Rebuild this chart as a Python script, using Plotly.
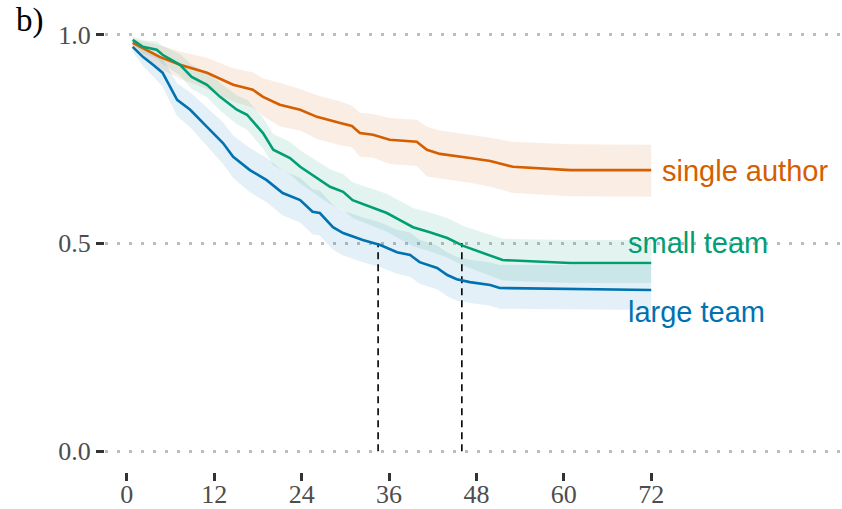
import plotly.graph_objects as go

# Survival estimates (months since start) with confidence bands
single_t = [0.8, 4.5, 7.3, 11.0, 14.6, 17.3, 18.7, 21.0, 23.8, 26.1, 29.3, 30.9, 32.0,
            33.8, 36.1, 39.8, 41.2, 43.0, 47.1, 49.9, 53.0, 60.9, 72.0]
single_s = [0.981, 0.947, 0.928, 0.909, 0.880, 0.868, 0.851, 0.832, 0.820, 0.803, 0.788,
            0.781, 0.764, 0.760, 0.748, 0.743, 0.724, 0.714, 0.704, 0.697, 0.683, 0.675, 0.675]
single_lo = [0.970, 0.920, 0.895, 0.870, 0.840, 0.825, 0.805, 0.780, 0.770, 0.750, 0.735,
             0.730, 0.707, 0.705, 0.690, 0.685, 0.660, 0.655, 0.645, 0.635, 0.620, 0.612, 0.611]
single_hi = [0.990, 0.975, 0.960, 0.945, 0.920, 0.910, 0.895, 0.885, 0.870, 0.855, 0.840,
             0.830, 0.813, 0.810, 0.800, 0.796, 0.779, 0.770, 0.760, 0.753, 0.743, 0.737, 0.736]

small_t = [0.8, 2.2, 4.1, 4.9, 7.3, 8.9, 11.0, 12.8, 15.1, 16.5, 18.7, 20.1, 22.4, 23.8,
           27.9, 29.7, 31.0, 33.4, 35.7, 37.5, 39.3, 41.6, 44.0, 46.2, 48.5, 51.6, 60.9, 72.0]
small_s = [0.988, 0.971, 0.964, 0.952, 0.928, 0.899, 0.880, 0.851, 0.820, 0.808, 0.764,
           0.724, 0.704, 0.683, 0.635, 0.623, 0.603, 0.587, 0.572, 0.555, 0.538, 0.526,
           0.512, 0.493, 0.478, 0.459, 0.452, 0.452]
small_lo = [0.980, 0.955, 0.944, 0.930, 0.902, 0.870, 0.850, 0.818, 0.785, 0.772, 0.727,
            0.686, 0.665, 0.643, 0.593, 0.580, 0.560, 0.543, 0.527, 0.510, 0.492, 0.480,
            0.465, 0.446, 0.430, 0.410, 0.404, 0.404]
small_hi = [0.996, 0.987, 0.984, 0.974, 0.954, 0.928, 0.910, 0.884, 0.855, 0.844, 0.801,
            0.762, 0.743, 0.723, 0.677, 0.666, 0.646, 0.631, 0.618, 0.601, 0.584, 0.573,
            0.560, 0.541, 0.528, 0.510, 0.507, 0.507]

large_t = [0.8, 2.2, 3.6, 4.9, 6.9, 8.7, 11.0, 13.2, 14.6, 16.9, 19.2, 21.4, 23.8, 25.5,
           26.5, 28.3, 29.7, 32.4, 34.8, 37.1, 38.9, 40.2, 42.6, 44.0, 45.3, 47.1, 49.9,
           51.2, 72.0]
large_s = [0.971, 0.947, 0.928, 0.909, 0.844, 0.820, 0.779, 0.740, 0.707, 0.675, 0.651,
           0.620, 0.603, 0.575, 0.572, 0.538, 0.524, 0.507, 0.495, 0.478, 0.471, 0.454,
           0.440, 0.423, 0.413, 0.406, 0.399, 0.392, 0.387]
large_lo = [0.960, 0.925, 0.900, 0.875, 0.805, 0.778, 0.732, 0.690, 0.656, 0.622, 0.598,
            0.566, 0.549, 0.521, 0.518, 0.484, 0.470, 0.454, 0.442, 0.426, 0.419, 0.402,
            0.389, 0.372, 0.362, 0.356, 0.349, 0.342, 0.339]
large_hi = [0.982, 0.970, 0.956, 0.943, 0.883, 0.862, 0.826, 0.790, 0.758, 0.728, 0.704,
            0.674, 0.657, 0.629, 0.626, 0.592, 0.578, 0.561, 0.549, 0.532, 0.525, 0.508,
            0.494, 0.477, 0.467, 0.460, 0.453, 0.447, 0.447]

# Median survival times (where each team curve reaches 0.5)
median_t = [34.5, 46.0]

group_names = ["single author", "small team", "large team"]
group_colors = ["#D55E00", "#009E73", "#0072B2"]
band_colors = ["rgba(213,94,0,0.11)", "rgba(0,158,115,0.11)", "rgba(0,114,178,0.11)"]
label_x = [73.2, 68.5, 68.5]
label_y = [0.672, 0.500, 0.334]

x_ticks = [0, 12, 24, 36, 48, 60, 72]
y_ticks = [0.0, 0.5, 1.0]
y_tick_text = ["0.0", "0.5", "1.0"]

series = [
    (single_t, single_s, single_lo, single_hi),
    (small_t, small_s, small_lo, small_hi),
    (large_t, large_s, large_lo, large_hi),
]

fig = go.Figure()

# confidence ribbons
for (t, s, lo, hi), bc in zip(series, band_colors):
    fig.add_trace(go.Scatter(
        x=list(t) + list(t[::-1]),
        y=list(hi) + list(lo[::-1]),
        fill="toself", fillcolor=bc, line=dict(width=0),
        mode="lines", hoverinfo="skip", showlegend=False,
    ))

# median markers
for m in median_t:
    fig.add_trace(go.Scatter(
        x=[m, m], y=[0, 0.5], mode="lines",
        line=dict(color="black", width=1.6, dash="7px,5px"),
        hoverinfo="skip", showlegend=False,
    ))

# survival curves
for (t, s, lo, hi), c, name in zip(series, group_colors, group_names):
    fig.add_trace(go.Scatter(
        x=t, y=s, mode="lines", name=name,
        line=dict(color=c, width=2.6), showlegend=False,
    ))

# direct labels
for name, c, lx, ly in zip(group_names, group_colors, label_x, label_y):
    fig.add_annotation(
        x=lx, y=ly, xref="x", yref="y", text=name, showarrow=False,
        xanchor="left", yanchor="middle",
        font=dict(family="Liberation Sans, Arial, sans-serif", size=29, color=c),
    )

fig.add_annotation(
    x=-0.124, y=1.03, xref="paper", yref="paper", text="b)", showarrow=False,
    xanchor="left", yanchor="top",
    font=dict(family="Liberation Serif, serif", size=33, color="black"),
)

tick_font = dict(family="Liberation Serif, serif", size=26, color="#4d4d4d")

fig.update_layout(
    width=842, height=509,
    margin=dict(l=105, r=0, t=14, b=37),
    paper_bgcolor="white", plot_bgcolor="white",
    xaxis=dict(
        range=[-3.0, 98.2], tickvals=x_ticks, ticktext=[str(v) for v in x_ticks],
        showgrid=False, zeroline=False, showline=False, automargin=False,
        ticks="outside", ticklen=8, tickwidth=2.5, tickcolor="#333333",
        tickfont=tick_font, ticklabelstandoff=-9,
    ),
    yaxis=dict(
        range=[-0.05, 1.05], tickvals=y_ticks, ticktext=y_tick_text,
        showgrid=True, gridcolor="#bdbdbd", gridwidth=2.5, griddash="3px,9px",
        zeroline=False, showline=False, automargin=False,
        ticks="outside", ticklen=8, tickwidth=2.5, tickcolor="#333333",
        tickfont=tick_font,
    ),
)

fig.write_html("out.html")
